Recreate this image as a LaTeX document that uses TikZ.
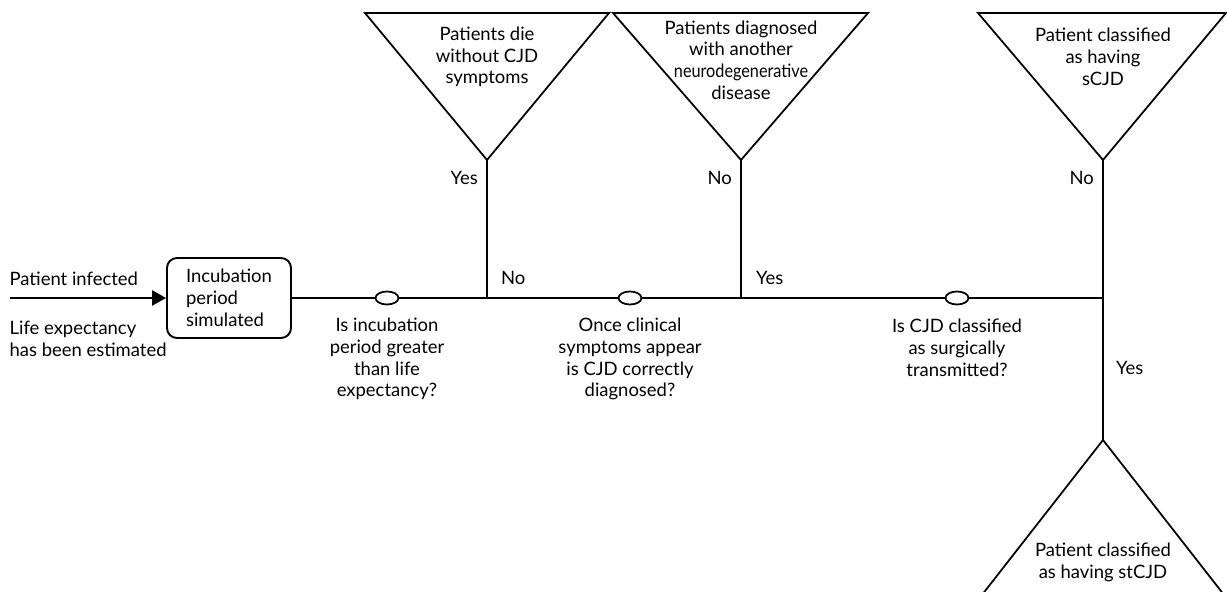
\documentclass[tikz,border=0pt]{standalone}
\usepackage{fontspec}
\setmainfont{Lato}
\usepackage{graphicx}
\usetikzlibrary{shapes.geometric,positioning,arrows.meta}

\tikzset{
  txt/.style={font=\fontsize{10.5}{12.4}\selectfont, align=center, inner sep=1pt},
  ltxt/.style={txt, align=left},
  stage/.style={rectangle, draw, rounded corners=0.2cm, line width=1.1pt, minimum height=1.6cm, minimum width=2.48cm, align=left, font=\fontsize{10.5}{12.4}\selectfont},
  chance/.style={ellipse, draw, line width=1pt, fill=white, minimum width=0.46cm, minimum height=0.26cm, inner sep=0pt},
  outcome/.style={draw, line width=1pt, line join=miter},
  link/.style={line width=1pt}
}

\begin{document}
\begin{tikzpicture}
        \useasboundingbox (0,0) rectangle (24.54,11.84);
        \clip (0,0) rectangle (24.54,11.84);
        % Nodes
        \coordinate (start) at (0.2, 5.88);
        \node (infected) [ltxt, anchor=west] at (0.15, 6.27) {Patient infected};
        \node (lifeexp) [ltxt, anchor=west] at (0.15, 5.07) {Life expectancy\\has been estimated};
        \node (incubation) [stage] at (4.58, 5.88) {Incubation\\period\\simulated};
        \node (q1) [chance] at (7.74, 5.88) {};
        \node (q2) [chance] at (12.6, 5.88) {};
        \node (q3) [chance] at (19.14, 5.88) {};
        \node (q1-text) [txt] at (7.74, 4.66) {Is incubation\\period greater\\than life\\expectancy?};
        \node (q2-text) [txt] at (12.6, 4.66) {Once clinical\\symptoms appear\\is CJD correctly\\diagnosed?};
        \node (q3-text) [txt] at (19.14, 4.88) {Is CJD classified\\as surgically\\transmitted?};
        \coordinate (j1) at (9.74, 5.88);
        \coordinate (j2) at (14.82, 5.88);
        \coordinate (j3) at (22.06, 5.88);
        % Outcomes
        \coordinate (die-l) at (7.3, 11.58);
        \coordinate (die-r) at (12.18, 11.58);
        \coordinate (die) at (9.74, 8.64);
        \coordinate (other-l) at (12.26, 11.58);
        \coordinate (other-r) at (17.36, 11.58);
        \coordinate (other) at (14.82, 8.64);
        \coordinate (scjd-l) at (19.56, 11.58);
        \coordinate (scjd-r) at (24.52, 11.58);
        \coordinate (scjd) at (22.06, 8.64);
        \coordinate (stcjd-l) at (19.56, -0.16);
        \coordinate (stcjd-r) at (24.56, -0.16);
        \coordinate (stcjd) at (22.06, 3.04);
        \draw[outcome] (die-l) -- (die-r) -- (die) -- cycle;
        \draw[outcome] (other-l) -- (other-r) -- (other) -- cycle;
        \draw[outcome] (scjd-l) -- (scjd-r) -- (scjd) -- cycle;
        \draw[outcome] (stcjd-l) -- (stcjd-r) -- (stcjd) -- cycle;
        \node (die-text) [txt] at (9.74, 10.7) {Patients die\\without CJD\\symptoms};
        \node (other-text) [txt] at (14.82, 10.64) {Patients diagnosed\\with another\\\scalebox{0.88}[1]{neurodegenerative}\\disease};
        \node (scjd-text) [txt] at (22.06, 10.7) {Patient classified\\as having\\sCJD};
        \node (stcjd-text) [txt] at (22.06, 0.6) {Patient classified\\as having stCJD};
        % Labels
        \node (yes1) [txt, anchor=east] at (9.6, 8.28) {Yes};
        \node (no1) [txt, anchor=west] at (9.98, 6.28) {No};
        \node (no2) [txt, anchor=east] at (14.68, 8.28) {No};
        \node (yes2) [txt, anchor=west] at (15.08, 6.28) {Yes};
        \node (no3) [txt, anchor=east] at (21.92, 8.28) {No};
        \node (yes3) [txt, anchor=west] at (22.28, 4.48) {Yes};
        % Arrow
        \draw[link, line width=1.4pt, -{Triangle[length=0.28cm, width=0.3cm]}] (start) -- (incubation);
        \draw[link] (incubation) -- (q1);
        \draw[link] (q1) -- (j1) -- (q2);
        \draw[link] (q2) -- (j2) -- (q3);
        \draw[link] (q3) -- (j3);
        \draw[link] (die) -- (j1);
        \draw[link] (other) -- (j2);
        \draw[link] (scjd) -- (j3) -- (stcjd);
      \end{tikzpicture}
\end{document}
